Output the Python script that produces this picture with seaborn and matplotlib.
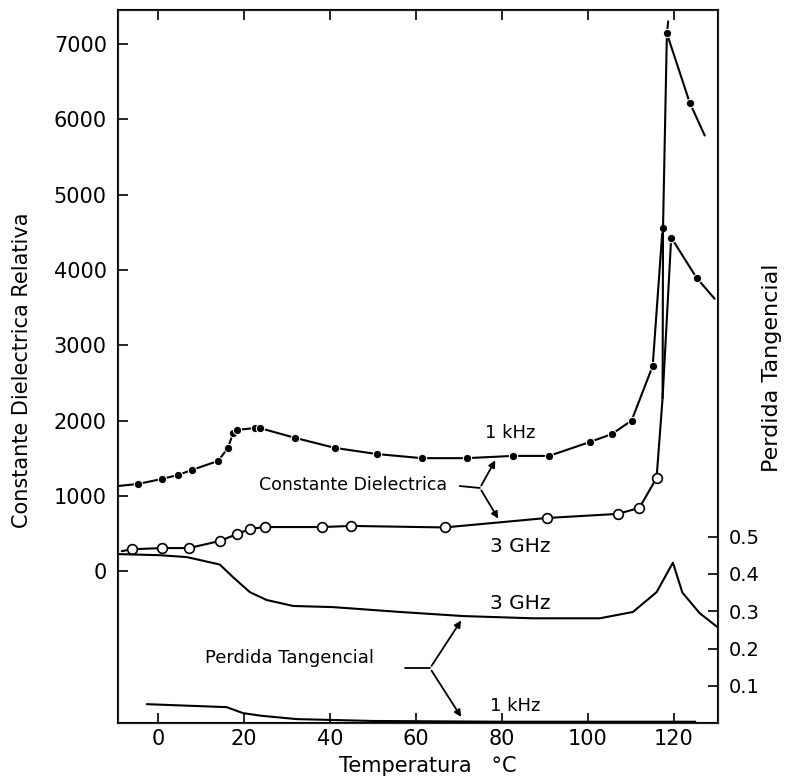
import matplotlib
matplotlib.use("Agg")
import matplotlib.pyplot as plt
import seaborn as sns

# Constante dielectrica, 1 kHz (puntos llenos)
t_1khz = [-9.3, -4.7, 0.9, 4.7, 7.9, 14.0, 16.3, 17.5, 18.3, 22.6, 23.7, 31.9, 41.2,
          50.9, 61.4, 71.8, 82.6, 91.0, 100.5, 105.6, 110.2, 115.1, 117.4]
eps_1khz = [1130, 1157, 1223, 1277, 1343, 1463, 1636, 1835, 1875, 1900, 1900, 1770, 1636,
            1555, 1500, 1500, 1530, 1530, 1715, 1820, 2000, 2726, 4560]

# Constante dielectrica, 3 GHz (puntos abiertos)
t_3ghz = [-8.4, -6.1, 1.0, 7.2, 14.4, 18.3, 21.4, 24.9, 38.1, 45.0, 66.7, 90.4,
          107.0, 112.0, 116.0, 117.4]
eps_3ghz = [265, 290, 306, 306, 400, 490, 560, 585, 585, 600, 580, 705,
            760, 840, 1237, 2300]

# ramas cerca de la transicion
t_riser = [117.4, 117.5, 118.4, 118.7]
eps_riser = [2300, 4560, 7141, 7300]
t_top = [118.4, 123.7, 127.2]
eps_top = [7141, 6223, 5785]
t_mid = [117.4, 119.4, 125.3, 129.5]
eps_mid = [2300, 4430, 3896, 3617]

# Perdida tangencial
t_tan3 = [-9.3, 0.5, 6.7, 9.8, 14.4, 17.5, 21.4, 25.3, 31.5, 40.7, 56.3, 71.0, 87.2,
          102.8, 110.5, 116.0, 119.8, 122.0, 126.0, 130.2]
tan_3ghz = [0.453, 0.45, 0.445, 0.437, 0.425, 0.391, 0.351, 0.33, 0.314, 0.311, 0.298,
            0.287, 0.281, 0.281, 0.298, 0.351, 0.43, 0.35, 0.295, 0.257]
t_tan1 = [-2.6, 16.0, 19.8, 24.0, 32.3, 50.0, 80.0, 100.0, 125.0]
tan_1khz = [0.051, 0.043, 0.027, 0.02, 0.011, 0.006, 0.004, 0.004, 0.004]

x_ticks = [0, 20, 40, 60, 80, 100, 120]
y_ticks = [0, 1000, 2000, 3000, 4000, 5000, 6000, 7000]
r_ticks = [0.1, 0.2, 0.3, 0.4, 0.5]
r_labels = ["0.1", "0.2", "0.3", "0.4", "0.5"]

sns.set_style("ticks")
plt.rcParams['font.family'] = ['DejaVu Sans']
plt.rcParams['text.color'] = 'black'
plt.rcParams['xtick.color'] = 'black'
plt.rcParams['ytick.color'] = 'black'

fig = plt.figure(figsize=(7.86, 7.81), dpi=100)
ax = fig.add_axes([0.150, 0.074, 0.763, 0.913])
k = "black"
lw = 1.5

sns.lineplot(x=t_1khz, y=eps_1khz, ax=ax, sort=False, estimator=None, color=k, lw=lw,
             marker="o", markersize=6, markevery=list(range(1, len(t_1khz))))
sns.lineplot(x=t_3ghz, y=eps_3ghz, ax=ax, sort=False, estimator=None, color=k, lw=lw,
             marker="o", markersize=7, markerfacecolor="white", markeredgecolor=k,
             markeredgewidth=1.2, markevery=list(range(1, len(t_3ghz) - 1)))
sns.lineplot(x=t_riser, y=eps_riser, ax=ax, sort=False, estimator=None, color=k, lw=lw)
sns.lineplot(x=t_top, y=eps_top, ax=ax, sort=False, estimator=None, color=k, lw=lw,
             marker="o", markersize=6, markevery=[0, 1])
sns.lineplot(x=t_mid, y=eps_mid, ax=ax, sort=False, estimator=None, color=k, lw=lw,
             marker="o", markersize=6, markevery=[1, 2])

ax.set_xlim(-9.3, 130.2)
ax.set_ylim(-2020, 7450)
ax.set_xticks(x_ticks)
ax.set_yticks(y_ticks)
ax.tick_params(direction="in", length=7, width=1.2, labelsize=15, top=True, pad=8,
               colors=k)
ax.tick_params(axis="x", labeltop=False, pad=4)
for s in ax.spines.values():
    s.set_linewidth(1.5)
    s.set_color(k)

ax2 = ax.twinx()
sns.lineplot(x=t_tan3, y=tan_3ghz, ax=ax2, sort=False, estimator=None, color=k, lw=lw)
sns.lineplot(x=t_tan1, y=tan_1khz, ax=ax2, sort=False, estimator=None, color=k, lw=lw)
ax2.set_ylim(0, 1.91)
ax2.set_yticks(r_ticks)
ax2.set_yticklabels(r_labels)
ax2.tick_params(direction="in", length=7, width=1.2, labelsize=14, pad=8, colors=k)
ax2.set_ylabel("")

# textos y flechas
ax.text(81.9, 1835, "1 kHz", fontsize=13, ha="center", va="center")
ax.text(45.5, 1144, "Constante Dielectrica", fontsize=12.5, ha="center", va="center")
ax.text(84.2, 332, "3 GHz", fontsize=14.5, ha="center", va="center")
ax.text(84.4, -425, "3 GHz", fontsize=14.5, ha="center", va="center")
ax.text(30.5, -1157, "Perdida Tangencial", fontsize=13, ha="center", va="center")
ax.text(83, -1795, "1 kHz", fontsize=13, ha="center", va="center")

arr = dict(arrowstyle="-|>", color=k, lw=1.3, mutation_scale=10)
ax.plot([70.2, 74.9], [1130, 1104], color=k, lw=1.3)
ax.annotate("", xy=(78.8, 1503), xytext=(74.9, 1104), arrowprops=arr)
ax.annotate("", xy=(79.5, 665), xytext=(74.9, 1104), arrowprops=arr)
ax.plot([57.4, 63.3], [-1290, -1290], color=k, lw=1.3)
ax.annotate("", xy=(70.9, -625), xytext=(63.3, -1290), arrowprops=arr)
ax.annotate("", xy=(70.9, -1968), xytext=(63.3, -1290), arrowprops=arr)

fig.text(428 / 786, 1 - 766 / 781, "Temperatura   °C", fontsize=15, ha="center", va="center")
fig.text(22 / 786, 1 - 370 / 781, "Constante Dielectrica Relativa", fontsize=15,
         rotation=90, ha="center", va="center")
fig.text(772 / 786, 1 - 368 / 781, "Perdida Tangencial", fontsize=16,
         rotation=90, ha="center", va="center")

fig.savefig("out.png", dpi=100)
